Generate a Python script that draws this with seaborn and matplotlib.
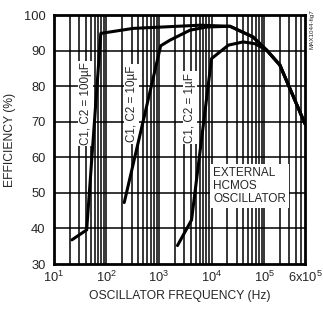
import numpy as np
import pandas as pd
import matplotlib
matplotlib.use("Agg")
import matplotlib.pyplot as plt
import seaborn as sns

# efficiency vs oscillator frequency
freq_100u = [22, 42, 78, 320, 6000, 22500, 61500, 112000, 200000, 600000]
eff_100u = [36.8, 39.6, 94.9, 96.3, 97.2, 96.9, 93.9, 90.2, 86.0, 69.5]

freq_10u = [218, 1077, 1620, 3900, 8100, 22500, 61500, 112000, 200000, 600000]
eff_10u = [47.3, 91.4, 93.0, 95.8, 96.7, 96.9, 93.9, 90.2, 86.0, 69.5]

freq_1u = [2250, 4170, 10000, 21000, 40000, 67000, 112000, 200000, 600000]
eff_1u = [35.2, 42.4, 87.8, 91.6, 92.5, 92.0, 90.2, 86.0, 69.5]

xticks = [10, 100, 1000, 10000, 100000, 600000]
xticklabels = ["$10^1$", "$10^2$", "$10^3$", "$10^4$", "$10^5$", "6x$10^5$"]
yticks = [30, 40, 50, 60, 70, 80, 90, 100]

sns.set_style("white")
plt.rcParams["font.family"] = ["Liberation Sans", "DejaVu Sans"]
plt.rcParams["mathtext.fontset"] = "custom"
plt.rcParams["mathtext.rm"] = "Liberation Sans"

fig = plt.figure(figsize=(3.23, 3.09), dpi=100)
ax = fig.add_axes([0.167, 0.1456, 0.777, 0.805])

for f, e in [(freq_100u, eff_100u), (freq_10u, eff_10u), (freq_1u, eff_1u)]:
    df = pd.DataFrame({"freq": f, "eff": e})
    sns.lineplot(data=df, x="freq", y="eff", ax=ax, color="black", lw=2.2,
                 sort=False, estimator=None, zorder=3)

ax.set_xscale("log")
ax.set_xlim(10, 600000)
ax.set_ylim(30, 100)

# grid: every minor log line plus each 10 %
vlines = [m * 10.0 ** d for d in range(1, 6) for m in range(1, 10)]
vlines = [v for v in vlines if 10 < v < 600000]
for v in vlines:
    ax.axvline(v, color="black", lw=1.1, zorder=1)
for h in yticks[1:-1]:
    ax.axhline(h, color="black", lw=1.1, zorder=1)

ax.set_xticks(xticks)
ax.set_xticklabels(xticklabels)
ax.xaxis.set_minor_locator(matplotlib.ticker.NullLocator())
ax.set_yticks(yticks)
ax.tick_params(length=0, labelsize=9.3, pad=4)
ax.tick_params(axis="y", pad=6)
for s in ax.spines.values():
    s.set_linewidth(2)
    s.set_color("black")

ax.set_xlabel("OSCILLATOR FREQUENCY (Hz)", fontsize=8.7, labelpad=4)
ax.set_ylabel("EFFICIENCY (%)", fontsize=8.7, labelpad=6)

box = dict(facecolor="white", edgecolor="none", pad=1)
ax.text(0.127, 0.645, "C1, C2 = 100µF", transform=ax.transAxes, rotation=90,
        ha="center", va="center", fontsize=8.4, bbox=box, zorder=2)
ax.text(0.31, 0.643, "C1, C2 = 10µF", transform=ax.transAxes, rotation=90,
        ha="center", va="center", fontsize=8.4, bbox=box, zorder=2)
ax.text(0.542, 0.628, "C1, C2 = 1µF", transform=ax.transAxes, rotation=90,
        ha="center", va="center", fontsize=8.4, bbox=box, zorder=2)
ax.text(0.635, 0.39, "EXTERNAL\nHCMOS\nOSCILLATOR", transform=ax.transAxes,
        ha="left", va="top", fontsize=8.5, linespacing=1.1,
        bbox=dict(facecolor="white", edgecolor="none", pad=2), zorder=4)
fig.text(0.965, 0.905, "MAX1044-fig7", rotation=90, ha="center", va="center",
         fontsize=4.5)

fig.savefig("out.png", dpi=100)
